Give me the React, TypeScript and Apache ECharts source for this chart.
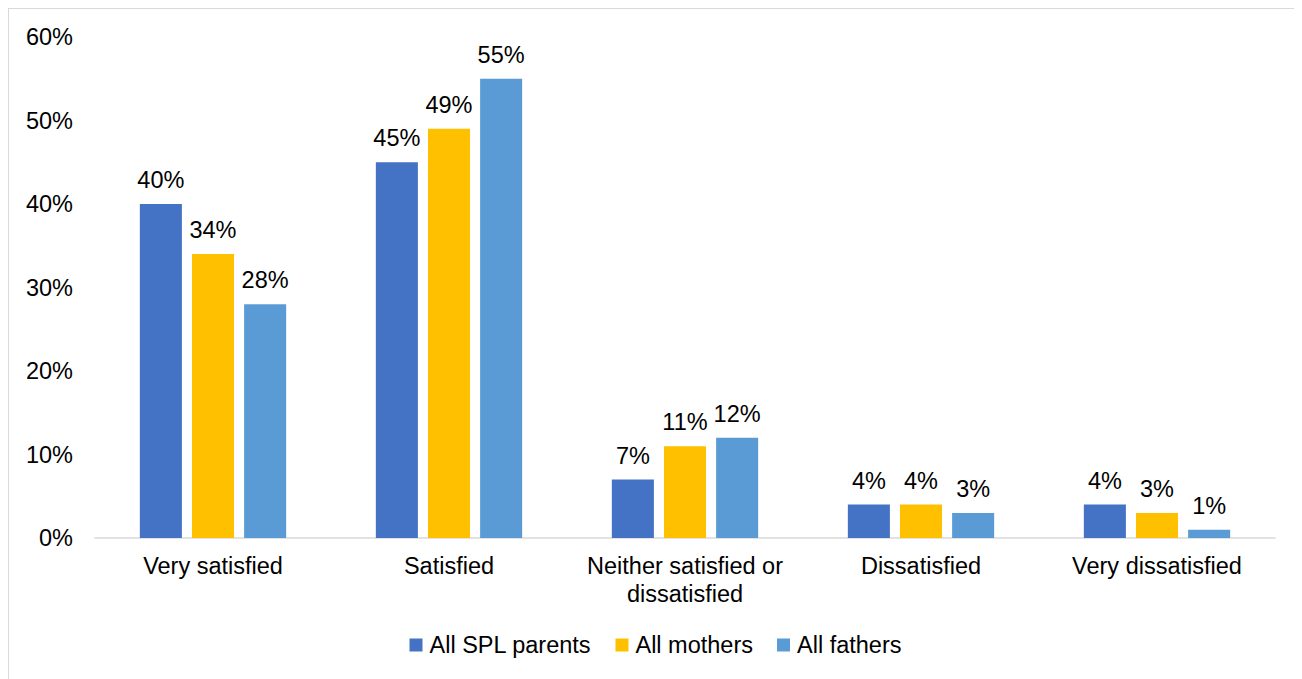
import React, { useEffect, useRef } from "react";
import * as echarts from "echarts";

const categories = ["Very satisfied", "Satisfied", "Neither satisfied or\ndissatisfied", "Dissatisfied", "Very dissatisfied"];
const seriesNames = ["All SPL parents", "All mothers", "All fathers"];
const splParents = [40, 45, 7, 4, 4];
const mothers = [34, 49, 11, 4, 3];
const fathers = [28, 55, 12, 3, 1];
const colors = ["#4472C4", "#FFC000", "#5B9BD5"];
const yTicks = [0, 10, 20, 30, 40, 50, 60];

const FONT = "'Liberation Sans', Arial, sans-serif";
const FS = 23.5;

export default function App() {
  const ref = useRef<HTMLDivElement>(null);
  useEffect(() => {
    const chart = echarts.init(ref.current!, null, { renderer: "svg" });
    const data = [splParents, mothers, fathers];
    chart.setOption({
      animation: false,
      textStyle: { fontFamily: FONT },
      grid: { left: 86, right: 27, top: 28, bottom: 141, containLabel: false },
      legend: {
        top: 619,
        left: "center",
        itemWidth: 13,
        itemHeight: 13,
        itemGap: 24,
        icon: "rect",
        textStyle: { fontSize: FS, color: "#000", fontFamily: FONT, padding: [0, 0, 0, 2] },
        data: seriesNames,
      },
      xAxis: {
        type: "category",
        data: categories,
        axisLine: { lineStyle: { color: "#d9d9d9", width: 1.5 } },
        axisTick: { show: false },
        axisLabel: { fontSize: FS, color: "#000", margin: 14, lineHeight: 28, fontFamily: FONT, interval: 0 },
      },
      yAxis: {
        type: "value",
        min: yTicks[0],
        max: yTicks[yTicks.length - 1],
        interval: 10,
        axisLine: { show: false },
        axisTick: { show: false },
        splitLine: { show: false },
        axisLabel: { fontSize: FS, color: "#000", margin: 22, formatter: "{value}%", fontFamily: FONT },
      },
      series: seriesNames.map((name, i) => ({
        name,
        type: "bar",
        data: data[i],
        itemStyle: { color: colors[i] },
        barGap: "24%",
        barCategoryGap: "38%",
        label: { show: true, position: "top", distance: 12, formatter: "{c}%", fontSize: FS, color: "#000", fontFamily: FONT },
      })),
    });
    return () => chart.dispose();
  }, []);
  return (
    <div
      ref={ref}
      style={{
        width: 1293,
        height: 670,
        borderLeft: "1px solid #d9d9d9",
        borderTop: "1px solid #d9d9d9",
      }}
    />
  );
}
